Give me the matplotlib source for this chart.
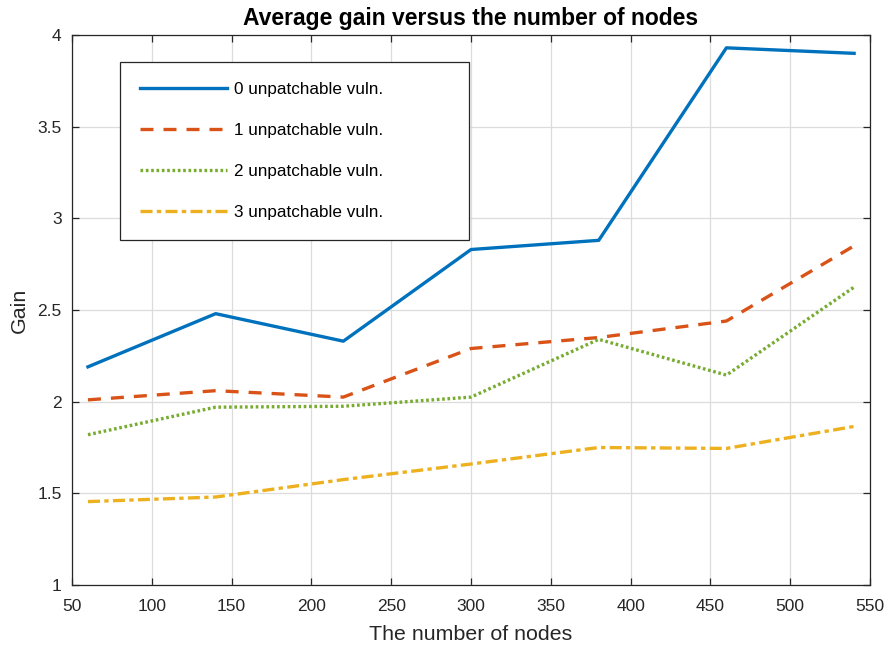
import matplotlib
matplotlib.use("Agg")
import matplotlib.pyplot as plt

nodes = [60, 140, 220, 300, 380, 460, 540]
gain0 = [2.19, 2.48, 2.33, 2.83, 2.88, 3.93, 3.90]
gain1 = [2.01, 2.06, 2.025, 2.29, 2.35, 2.44, 2.85]
gain2 = [1.82, 1.97, 1.975, 2.025, 2.34, 2.145, 2.625]
gain3 = [1.455, 1.48, 1.575, 1.66, 1.75, 1.745, 1.865]
labels = ["0 unpatchable vuln.", "1 unpatchable vuln.",
          "2 unpatchable vuln.", "3 unpatchable vuln."]
xticks = [50, 100, 150, 200, 250, 300, 350, 400, 450, 500, 550]
yticks = [1, 1.5, 2, 2.5, 3, 3.5, 4]

plt.rcParams['font.family'] = ['Liberation Sans', 'DejaVu Sans']

fig = plt.figure(figsize=(8.89, 6.47), dpi=100)
ax = fig.add_axes([0.081, 0.0958, 0.8977, 0.8501])

lw = 2.4
ax.plot(nodes, gain0, color='#0072BD', lw=lw, linestyle='-', label=labels[0])
ax.plot(nodes, gain1, color='#D95319', lw=lw, linestyle=(0, (3.9, 3.0)), label=labels[1])
ax.plot(nodes, gain2, color='#77AC30', lw=lw, linestyle=(0, (0.8, 0.8)), label=labels[2])
ax.plot(nodes, gain3, color='#EDB120', lw=lw, linestyle=(0, (3.6, 1.3, 1.3, 1.3)), label=labels[3])

ax.set_xlim(50, 550)
ax.set_ylim(1, 4)
ax.set_xticks(xticks)
ax.set_yticks(yticks)
ax.set_yticklabels([f"{v:g}" for v in yticks])
ax.grid(True, color='#dcdcdc', lw=0.9)
ax.set_axisbelow(True)
for s in ax.spines.values():
    s.set_color('#262626')
    s.set_linewidth(0.9)
ax.tick_params(direction='in', top=True, right=True, length=5, width=0.9,
               labelsize=12.5, colors='#262626', labelcolor='#262626')
ax.tick_params(axis='x', pad=10)
ax.tick_params(axis='y', pad=7.5)
ax.set_xlabel("The number of nodes", fontsize=15.4, color='#262626', labelpad=8)
ax.set_ylabel("Gain", fontsize=15.4, color='#262626', labelpad=6)
ax.set_title("Average gain versus the number of nodes", fontsize=16.5, fontweight='bold', pad=7)

leg = ax.legend(loc='upper left', bbox_to_anchor=(0.06, 0.0, 0.437, 0.951),
                mode='expand', fontsize=12.3, handlelength=5.1, handletextpad=0.45,
                labelspacing=1.53, borderpad=1.15, borderaxespad=0.0,
                fancybox=False, framealpha=1, edgecolor='#262626')
leg.get_frame().set_linewidth(0.9)

fig.savefig("out.png", dpi=100)
